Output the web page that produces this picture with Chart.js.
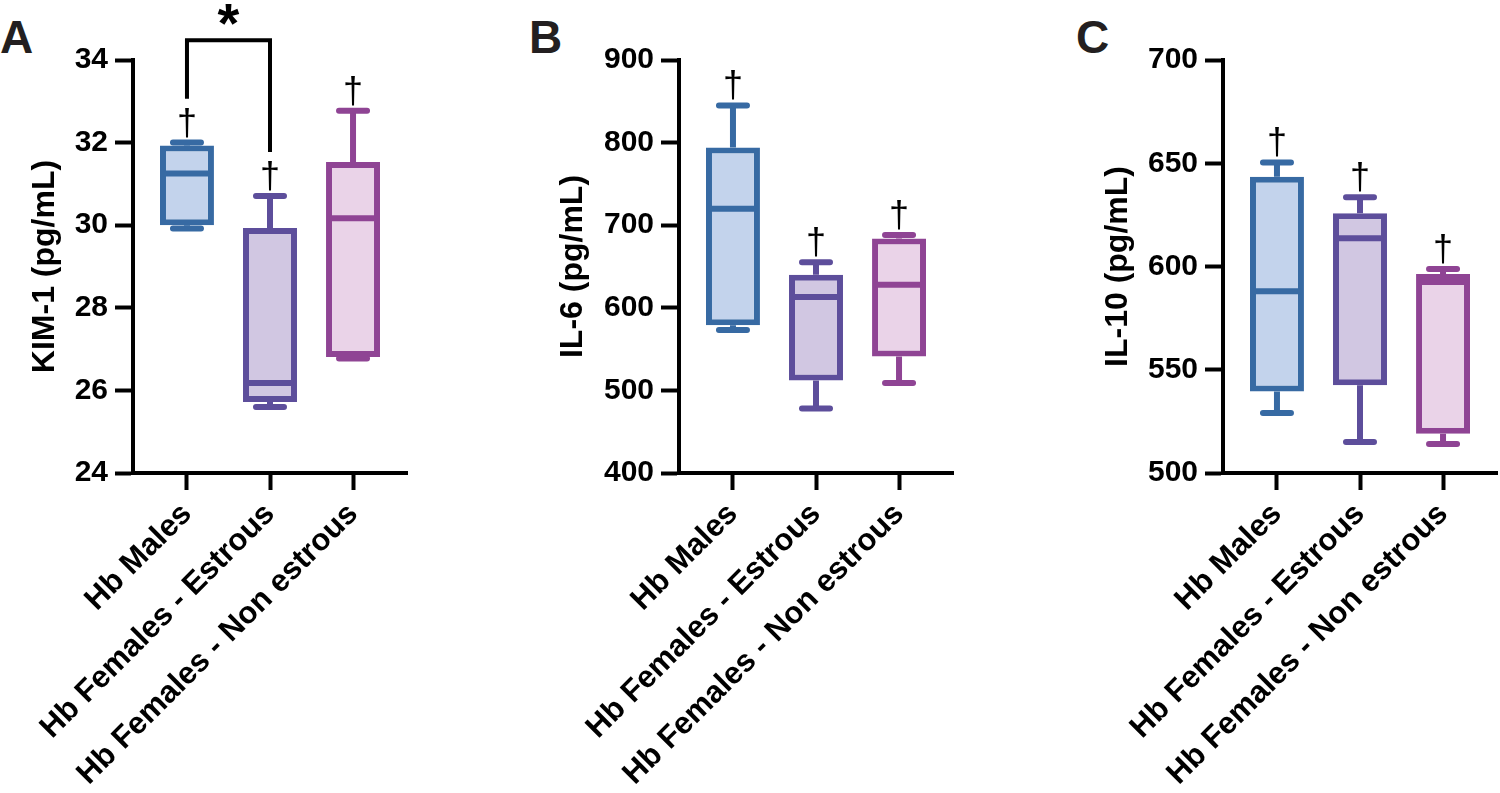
<!DOCTYPE html>
<html lang="en">
<head>
<meta charset="UTF-8">
<title>KIM-1, IL-6, IL-10</title>
<script src="https://cdn.jsdelivr.net/npm/chart.js"></script>
<style>
  body { margin: 0; background: #fff; width: 1500px; height: 793px; overflow: hidden; position: relative; font-family: "Liberation Sans", Arial, sans-serif; }
  .panel { position: absolute; top: 0; width: 410px; height: 793px; }
  .letter { position: absolute; top: 14px; font-weight: bold; font-size: 46px; line-height: 1; color: #231f20; }
</style>
</head>
<body>
<div class="letter" style="left:0">A</div>
<div class="letter" style="left:529px">B</div>
<div class="letter" style="left:1076px">C</div>
<div class="panel" style="left:0"><canvas id="chartA"></canvas></div>
<div class="panel" style="left:546px"><canvas id="chartB"></canvas></div>
<div class="panel" style="left:1090px"><canvas id="chartC"></canvas></div>

<script>
// groups
const categories = ['Hb Males', 'Hb Females - Estrous', 'Hb Females - Non estrous'];

// KIM-1 (pg/mL)
const kimMin = [29.92, 25.6, 26.77];
const kimQ1 = [30.0, 25.72, 26.81];
const kimMed = [31.25, 26.18, 30.17];
const kimQ3 = [31.93, 29.93, 31.53];
const kimMax = [32.0, 30.71, 32.77];

// IL-6 (pg/mL)
const il6Min = [573, 478, 509];
const il6Q1 = [579, 512, 541];
const il6Med = [720, 613, 628];
const il6Q3 = [794, 640, 684];
const il6Max = [845, 655, 688];

// IL-10 (pg/mL)
const il10Min = [529, 515, 514];
const il10Q1 = [539.5, 542.5, 519];
const il10Med = [588, 613.7, 592.5];
const il10Q3 = [643.5, 625.8, 596.4];
const il10Max = [650.4, 633.5, 598.8];

// † above every group, * between males and estrous females for KIM-1
const daggers = ['†', '†', '†'];
const kimBracket = [0, 1, 34.48, 33.06, 31.77]; // from, to, top, left end, right end

const strokes = ['#376aa3', '#5d4e9b', '#8f4494'];
const fills = ['#c3d3ec', '#d1c7e2', '#ead3e8'];
const FONT = '"Liberation Sans", Arial, sans-serif';

function whiskerPlugin(mins, meds, maxs, bracket) {
    return {
        id: 'whiskers',
        afterDatasetsDraw(chart) {
            const ctx = chart.ctx;
            const x = chart.scales.x, y = chart.scales.y;
            const bars = chart.getDatasetMeta(0).data;
            ctx.save();
            ctx.lineWidth = 6;
            bars.forEach((bar, i) => {
                const cx = x.getPixelForValue(i + 1);
                const half = bar.width / 2;
                ctx.strokeStyle = strokes[i];
                // whiskers
                ctx.lineCap = 'butt';
                ctx.beginPath();
                ctx.moveTo(cx, bar.y);
                ctx.lineTo(cx, y.getPixelForValue(maxs[i]));
                ctx.moveTo(cx, bar.base);
                ctx.lineTo(cx, y.getPixelForValue(mins[i]));
                ctx.stroke();
                // caps
                ctx.lineCap = 'round';
                ctx.beginPath();
                [mins[i], maxs[i]].forEach(v => {
                    const py = y.getPixelForValue(v);
                    ctx.moveTo(cx - 14, py);
                    ctx.lineTo(cx + 14, py);
                });
                ctx.stroke();
                // median
                ctx.lineCap = 'butt';
                ctx.beginPath();
                const my = y.getPixelForValue(meds[i]);
                ctx.moveTo(cx - half + 3, my);
                ctx.lineTo(cx + half - 3, my);
                ctx.stroke();
                // dagger
                ctx.fillStyle = '#000';
                ctx.font = '36px ' + FONT;
                ctx.textAlign = 'center';
                ctx.textBaseline = 'alphabetic';
                ctx.fillText(daggers[i], cx, y.getPixelForValue(maxs[i]) - 8);
            });
            if (bracket) {
                const x1 = x.getPixelForValue(bracket[0] + 1);
                const x2 = x.getPixelForValue(bracket[1] + 1);
                const top = y.getPixelForValue(bracket[2]);
                ctx.strokeStyle = '#000';
                ctx.lineWidth = 4;
                ctx.lineCap = 'butt';
                ctx.lineJoin = 'miter';
                ctx.beginPath();
                ctx.moveTo(x1, y.getPixelForValue(bracket[3]));
                ctx.lineTo(x1, top);
                ctx.lineTo(x2, top);
                ctx.lineTo(x2, y.getPixelForValue(bracket[4]));
                ctx.stroke();
                ctx.fillStyle = '#000';
                ctx.font = 'bold 56px ' + FONT;
                ctx.textAlign = 'center';
                ctx.fillText('*', (x1 + x2) / 2, top + 2);
            }
            ctx.restore();
        }
    };
}

function makeChart(id, title, titlePad, yMin, yMax, step, q1, q3, mins, meds, maxs, bracket) {
    const axisGrid = { display: true, drawOnChartArea: false, color: '#000', tickColor: '#000', tickWidth: 4 };
    return new Chart(document.getElementById(id), {
        type: 'bar',
        data: {
            datasets: [{
                data: categories.map((c, i) => ({ x: i + 1, y: [q1[i], q3[i]] })),
                backgroundColor: fills,
                borderColor: strokes,
                borderWidth: 6,
                borderSkipped: false,
                barPercentage: 0.65,
                categoryPercentage: 1
            }]
        },
        options: {
            responsive: true,
            maintainAspectRatio: false,
            animation: false,
            devicePixelRatio: 1,
            layout: { padding: { top: 60, right: 3, left: 0, bottom: 0 } },
            plugins: { legend: { display: false }, tooltip: { enabled: false } },
            scales: {
                x: {
                    type: 'linear',
                    offset: false,
                    min: 0.35,
                    max: 3.65,
                    afterBuildTicks: s => { s.ticks = [1, 2, 3].map(v => ({ value: v })); },
                    afterFit: s => { s.height = 320; s.paddingLeft = 0; s.paddingRight = 0; },
                    grid: { ...axisGrid, offset: false, tickLength: 17 },
                    border: { display: true, color: '#000', width: 4 },
                    ticks: {
                        autoSkip: false,
                        minRotation: 45,
                        maxRotation: 45,
                        padding: 6,
                        color: '#000',
                        font: { family: FONT, size: 31, weight: 'bold' },
                        callback: v => categories[v - 1]
                    }
                },
                y: {
                    min: yMin,
                    max: yMax,
                    afterFit: s => { s.width = 133; s.paddingTop = 0; s.paddingBottom = 0; },
                    grid: { ...axisGrid, tickLength: 18 },
                    border: { display: true, color: '#000', width: 4 },
                    ticks: {
                        stepSize: step,
                        padding: 7,
                        color: '#000',
                        font: { family: FONT, size: 30, weight: 'bold' }
                    },
                    title: {
                        display: true,
                        text: title,
                        color: '#000',
                        padding: { top: titlePad, bottom: 0 },
                        font: { family: FONT, size: 32, weight: 'bold' }
                    }
                }
            }
        },
        plugins: [whiskerPlugin(mins, meds, maxs, bracket)]
    });
}

makeChart('chartA', 'KIM-1 (pg/mL)', 26, 24, 34, 2, kimQ1, kimQ3, kimMin, kimMed, kimMax, kimBracket);
makeChart('chartB', 'IL-6 (pg/mL)', 8, 400, 900, 100, il6Q1, il6Q3, il6Min, il6Med, il6Max, null);
makeChart('chartC', 'IL-10 (pg/mL)', 9, 500, 700, 50, il10Q1, il10Q3, il10Min, il10Med, il10Max, null);
</script>
</body>
</html>
